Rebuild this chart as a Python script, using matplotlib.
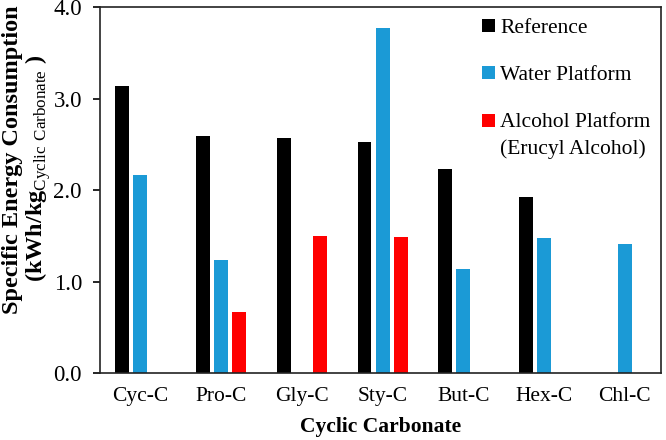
import matplotlib
matplotlib.use("Agg")
import matplotlib.pyplot as plt
from matplotlib.legend_handler import HandlerPatch
from matplotlib.patches import Rectangle
import numpy as np

# Data
categories = ["Cyc-C", "Pro-C", "Gly-C", "Sty-C", "But-C", "Hex-C", "Chl-C"]
reference = [3.14, 2.59, 2.57, 2.52, 2.23, 1.92, np.nan]
water_platform = [2.16, 1.23, np.nan, 3.77, 1.14, 1.47, 1.41]
alcohol_platform = [np.nan, 0.67, 1.50, 1.49, np.nan, np.nan, np.nan]
series_labels = ["Reference", "Water Platform", "Alcohol Platform\n(Erucyl Alcohol)"]
yticks = [0.0, 1.0, 2.0, 3.0, 4.0]

colors = ["#000000", "#1b9ad6", "#ff0000"]

plt.rcParams["font.family"] = ["Liberation Serif", "DejaVu Serif"]
plt.rcParams["mathtext.fontset"] = "custom"
plt.rcParams["mathtext.rm"] = "Liberation Serif"

fig = plt.figure(figsize=(6.66, 4.4), dpi=100)
ax = fig.add_axes([100 / 666, 1 - 373 / 440, 561 / 666, 366 / 440])

x = np.arange(len(categories))
width = 0.173
offset = 0.223
bars = []
for i, (vals, lab) in enumerate(zip([reference, water_platform, alcohol_platform], series_labels)):
    bars.append(ax.bar(x + (i - 1) * offset, vals, width, color=colors[i], label=lab))

ax.set_xlim(-0.5, 6.45)
ax.set_ylim(0, 4.0)
ax.set_yticks(yticks)
ax.set_yticklabels([f"{t:.1f}" for t in yticks])
ax.set_xticks(x)
ax.set_xticklabels(categories)
ax.tick_params(axis="x", length=0, pad=10, labelsize=15.5)
ax.tick_params(axis="y", direction="out", length=5, width=1.2, pad=8, labelsize=16.5)
for s in ax.spines.values():
    s.set_linewidth(1.2)
    s.set_color("#222222")

ax.set_xlabel("Cyclic Carbonate", fontsize=15.5, fontweight="bold", labelpad=8)

fig.text(13 / 666, 1 - 160 / 440, "Specific Energy Consumption", rotation=90,
         ha="center", va="center", fontsize=17.5, fontweight="bold")
fig.text(38 / 666, 1 - 168 / 440, r"(kWh/kg$_{\rm Cyclic\ Carbonate}$ )", rotation=90,
         ha="center", va="center", fontsize=17.5, fontweight="bold")


# square marker aligned with the first line of a two-line label
def top_square(legend, orig_handle, xdescent, ydescent, width, height, fontsize):
    return Rectangle((-xdescent, -ydescent + 0.68 * fontsize), width, height)


handles = [b.patches[0] for b in bars]
leg = ax.legend(handles, series_labels, loc="upper left",
                bbox_to_anchor=(482 / 666, 1 - 19 / 440),
                bbox_transform=fig.transFigure, frameon=False, fontsize=15.5,
                handlelength=0.6, handleheight=0.55, handletextpad=0.25,
                labelspacing=1.3, borderpad=0, borderaxespad=0,
                handler_map={handles[2]: HandlerPatch(patch_func=top_square)})
leg.get_texts()[2].set_linespacing(1.5)

fig.savefig("out.png", dpi=100)
